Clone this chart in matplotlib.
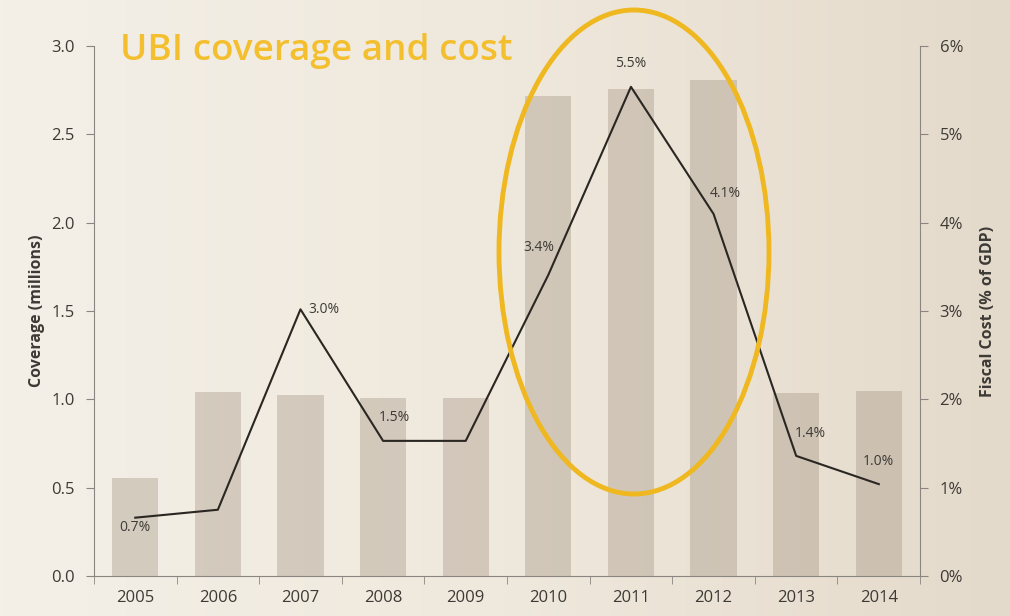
import matplotlib
matplotlib.use("Agg")
import matplotlib.pyplot as plt
import numpy as np
from matplotlib.patches import Ellipse
from matplotlib.ticker import FuncFormatter, MultipleLocator
from matplotlib.colors import LinearSegmentedColormap

years = ["2005", "2006", "2007", "2008", "2009", "2010", "2011", "2012", "2013", "2014"]
coverage = [0.555, 1.04, 1.025, 1.01, 1.005, 2.72, 2.76, 2.81, 1.035, 1.05]
fiscal_cost = [0.66, 0.75, 3.02, 1.53, 1.53, 3.41, 5.54, 4.10, 1.36, 1.04]
cost_labels = ["0.7%", None, "3.0%", "1.5%", None, "3.4%", "5.5%", "4.1%", "1.4%", "1.0%"]
label_offsets = [(0, -7), None, (17, 0), (8, 16.5), None, (-6.5, 20), (0, 17), (8.5, 15), (10, 16), (0, 16)]

plt.rcParams['font.family'] = ['Open Sans', 'DejaVu Sans']
text_col = '#3d3a36'

fig = plt.figure(figsize=(10.1, 6.16), dpi=100)
# background gradient
bg = fig.add_axes([0, 0, 1, 1], zorder=-10)
gx = np.linspace(0, 1, 256)
grad = np.tile(gx, (2, 1))
cmap = LinearSegmentedColormap.from_list('paper', ['#f4f0e8', '#efe8dc', '#e4dacb'])
bg.imshow(grad, aspect='auto', cmap=cmap, extent=[0, 1, 0, 1])
bg.axis('off')

ax = fig.add_axes([0.093, 0.065, 0.818, 0.86])
ax.patch.set_alpha(0)
x = np.arange(len(years))
ax.bar(x, coverage, width=0.56, color='#9c8c7a', alpha=0.35, zorder=1)
ax.set_xlim(-0.5, len(years) - 0.5)
ax.set_ylim(0, 3.0)
ax.yaxis.set_major_locator(MultipleLocator(0.5))
ax.yaxis.set_major_formatter(FuncFormatter(lambda v, p: f"{v:.1f}"))
ax.set_xticks(x)
ax.set_xticklabels(years)
ax.set_xticks(np.arange(-0.5, len(years), 1.0), minor=True)
ax.tick_params(axis='x', which='major', length=0, pad=10, labelsize=12, labelcolor=text_col)
ax.tick_params(axis='x', which='minor', length=6, color='#8a8580', direction='out')
ax.tick_params(axis='y', length=6, color='#8a8580', labelsize=12, labelcolor=text_col, pad=8)
for s in ['top', 'right']:
    ax.spines[s].set_visible(False)
for s in ['left', 'bottom']:
    ax.spines[s].set_color('#8a8580')
ax.set_ylabel("Coverage (millions)", fontsize=11.5, fontweight='bold', color=text_col, labelpad=4)

ax2 = ax.twinx()
ax2.set_ylim(0, 6)
ax2.yaxis.set_major_locator(MultipleLocator(1))
ax2.yaxis.set_major_formatter(FuncFormatter(lambda v, p: f"{v:.0f}%"))
ax2.plot(x, fiscal_cost, color='#2a2622', lw=1.5, zorder=3)
for s in ['top', 'left', 'bottom']:
    ax2.spines[s].set_visible(False)
ax2.spines['right'].set_color('#8a8580')
ax2.tick_params(axis='y', length=6, color='#8a8580', labelsize=12, labelcolor=text_col, pad=8)
ax2.set_ylabel("Fiscal Cost (% of GDP)", fontsize=11.5, fontweight='bold', color=text_col, labelpad=12)

for xi, yi, lab, off in zip(x, fiscal_cost, cost_labels, label_offsets):
    if lab is None:
        continue
    ax2.annotate(lab, (xi, yi), xytext=off, textcoords='offset points',
                 ha='center', va='center', fontsize=10, color=text_col)

# highlight ellipse
ell = Ellipse((634 / 1010, 1 - 252 / 616), 270 / 1010, 484 / 616, transform=fig.transFigure,
              fill=False, edgecolor='#efb820', lw=3.5, zorder=5)
fig.patches.append(ell)

fig.text(120 / 1010, 1 - 51 / 616, "UBI coverage and cost", fontsize=26.6, fontweight='semibold',
         color='#f4bf2e', ha='left', va='center')

fig.savefig("out.png", dpi=100)
